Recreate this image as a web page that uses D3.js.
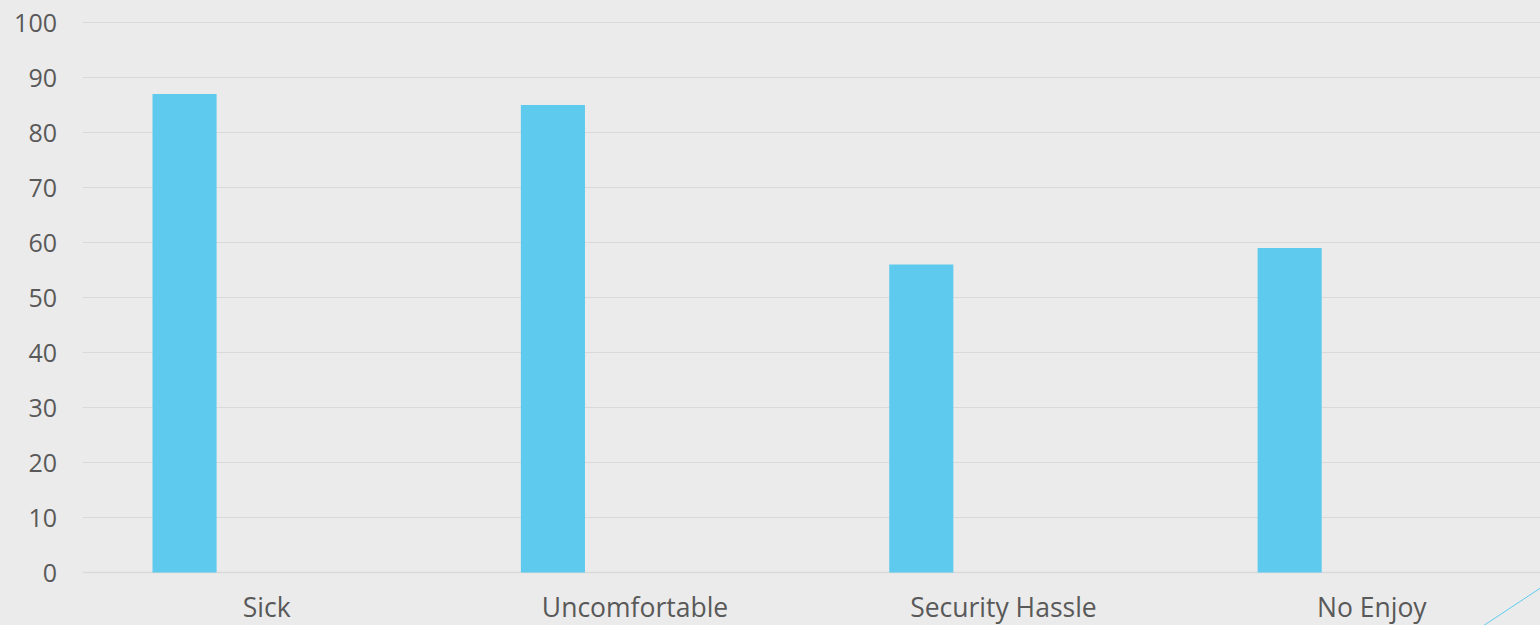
<!DOCTYPE html>
<html>
<head>
<meta charset="utf-8">
<script src="https://cdn.jsdelivr.net/npm/d3@7"></script>
<style>
html,body{margin:0;padding:0;background:#ebebeb;overflow:hidden;}
svg{display:block;}
</style>
</head>
<body>
<svg id="chart" width="1540" height="625"></svg>
<script>
const categories = ["Sick", "Uncomfortable", "Security Hassle", "No Enjoy"];
const values = [87, 85, 56, 59];
const yTicks = [0, 10, 20, 30, 40, 50, 60, 70, 80, 90, 100];

const W = 1540, H = 625;
const plot = {left: 82.5, right: 1556, top: 22.5, bottom: 572.5};
const svg = d3.select("#chart");
svg.append("rect").attr("width", W).attr("height", H).attr("fill", "#ebebeb");

const x = d3.scaleBand().domain(categories).range([plot.left, plot.right]).paddingInner(0).paddingOuter(0);
const y = d3.scaleLinear().domain([0, 100]).range([plot.bottom, plot.top]);

const font = "'Open Sans', 'Noto Sans', sans-serif";

// gridlines
svg.append("g").selectAll("line").data(yTicks).join("line")
  .attr("x1", plot.left).attr("x2", W)
  .attr("y1", d => y(d)).attr("y2", d => y(d))
  .attr("stroke", "#d9d9d9").attr("stroke-width", d => d === 0 ? 1.5 : 1.2);

// y tick labels
svg.append("g").selectAll("text").data(yTicks).join("text")
  .attr("x", 57).attr("y", d => y(d)).attr("dy", "0.36em")
  .attr("text-anchor", "end")
  .attr("font-family", font).attr("font-size", 25).attr("fill", "#595959")
  .text(d => d);

// bars
const bw = x.bandwidth();
svg.append("g").selectAll("rect").data(categories).join("rect")
  .attr("x", d => x(d) + bw * 0.19)
  .attr("width", bw * 0.174)
  .attr("y", (d, i) => y(values[i]))
  .attr("height", (d, i) => y(0) - y(values[i]))
  .attr("fill", "#5ecbee");

// category labels
svg.append("g").selectAll("text").data(categories).join("text")
  .attr("x", d => x(d) + bw / 2).attr("y", 617)
  .attr("text-anchor", "middle")
  .attr("font-family", font).attr("font-size", 26.5).attr("fill", "#595959")
  .text(d => d);

// decorative diagonal line
svg.append("line").attr("x1", 1483).attr("y1", 626).attr("x2", 1545).attr("y2", 585)
  .attr("stroke", "#5ecbee").attr("stroke-width", 1);
</script>
</body>
</html>
